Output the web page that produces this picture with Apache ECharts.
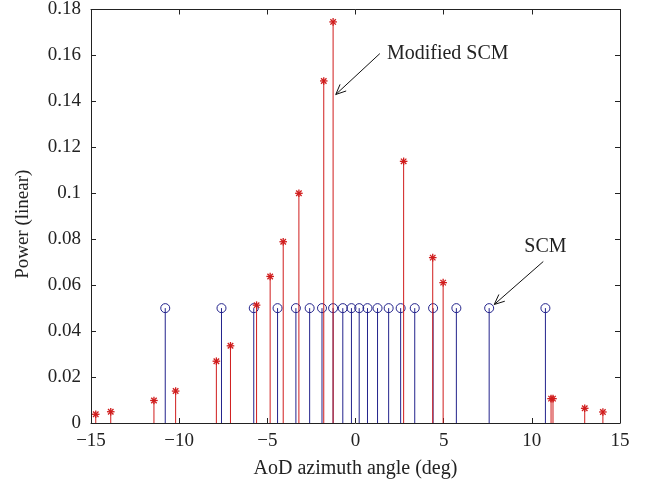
<!DOCTYPE html>
<html>
<head>
<meta charset="utf-8">
<script src="https://cdn.jsdelivr.net/npm/echarts@6/dist/echarts.min.js"></script>
<style>
html,body{margin:0;padding:0;background:#fff;}
#chart{width:651px;height:490px;}
</style>
</head>
<body>
<div id="chart"></div>
<script>
// SCM subpaths (angle in deg, power linear)
const scmAngles = [-10.79, -7.6, -5.77, -4.42, -3.38, -2.6, -1.9, -1.27, -0.72, -0.23,
                   0.21, 0.68, 1.25, 1.88, 2.56, 3.36, 4.4, 5.72, 7.58, 10.77];
const scmPower  = [0.05, 0.05, 0.05, 0.05, 0.05, 0.05, 0.05, 0.05, 0.05, 0.05,
                   0.05, 0.05, 0.05, 0.05, 0.05, 0.05, 0.05, 0.05, 0.05, 0.05];
// Modified SCM
const modAngles = [-14.73, -13.88, -11.43, -10.2, -7.89, -7.09, -5.61, -4.84, -4.1, -3.21,
                   -1.8, -1.27, 2.73, 4.38, 4.97, 11.09, 11.2, 13.0, 14.03];
const modPower  = [0.0038, 0.0049, 0.0098, 0.0139, 0.0269, 0.0336, 0.0513, 0.0638, 0.0789, 0.1000,
                   0.1489, 0.1746, 0.1139, 0.0720, 0.0611, 0.0106, 0.0106, 0.0064, 0.0048];
const xTicks = [-15, -10, -5, 0, 5, 10, 15];
const yTicks = [0, 0.02, 0.04, 0.06, 0.08, 0.1, 0.12, 0.14, 0.16, 0.18];

const FONT = '"Liberation Serif","DejaVu Serif",serif';
const BLUE = '#23238c';
const RED = '#d01c1c';

function pairs(a, b){ return a.map((v,i)=>[v,b[i]]); }

function stemRender(kind, color){
  return function(params, api){
    const x = api.value(0), y = api.value(1);
    const p = api.coord([x, y]);
    const b = api.coord([x, 0]);
    const children = [{
      type:'line', shape:{x1:b[0], y1:b[1], x2:p[0], y2:p[1]},
      style:{stroke:color, lineWidth:1}
    }];
    if (kind === 'circle') {
      children.push({type:'circle', shape:{cx:p[0], cy:p[1], r:4.5},
        style:{stroke:color, fill:null, lineWidth:1}});
    } else {
      const r = 3.8, d = r*0.72;
      const segs = [[-r,0,r,0],[0,-r,0,r],[-d,-d,d,d],[-d,d,d,-d]];
      segs.forEach(s=>children.push({type:'line',
        shape:{x1:p[0]+s[0], y1:p[1]+s[1], x2:p[0]+s[2], y2:p[1]+s[3]},
        style:{stroke:color, lineWidth:1.3}}));
    }
    return {type:'group', children};
  };
}

const chart = echarts.init(document.getElementById('chart'));
const axisCommon = {
  axisLine:{show:true, onZero:false, lineStyle:{color:'#222', width:1}},
  axisTick:{show:true, inside:true, length:5, lineStyle:{color:'#222'}},
  splitLine:{show:false}
};
chart.setOption({
  animation:false,
  backgroundColor:'#fff',
  grid:{left:91, right:31, top:7, bottom:67},
  xAxis:[
    Object.assign({type:'value', min:-15, max:15, interval:5, position:'bottom',
      name:'AoD azimuth angle (deg)', nameLocation:'middle', nameGap:36,
      nameTextStyle:{fontFamily:FONT, fontSize:20, color:'#222'},
      axisLabel:{fontFamily:FONT, fontSize:19, color:'#222', margin:9,
        formatter:v=>String(v).replace('-', '\u2212')}}, axisCommon),
    Object.assign({type:'value', min:-15, max:15, interval:5, position:'top',
      axisLabel:{show:false}}, axisCommon)
  ],
  yAxis:[
    Object.assign({type:'value', min:0, max:0.18, interval:0.02, position:'left',
      name:'Power (linear)', nameLocation:'middle', nameGap:58,
      nameTextStyle:{fontFamily:FONT, fontSize:19, color:'#222', padding:[0,16,0,0]},
      axisLabel:{fontFamily:FONT, fontSize:19, color:'#222', margin:10,
        formatter:v=>String(+v.toFixed(2))}}, axisCommon),
    Object.assign({type:'value', min:0, max:0.18, interval:0.02, position:'right',
      axisLabel:{show:false}}, axisCommon)
  ],
  series:[
    {type:'custom', name:'SCM', renderItem:stemRender('circle', BLUE),
     data:pairs(scmAngles, scmPower), encode:{x:0,y:1}, clip:false, z:2},
    {type:'custom', name:'Modified SCM', renderItem:stemRender('star', RED),
     data:pairs(modAngles, modPower), encode:{x:0,y:1}, clip:false, z:3}
  ]
});

// Annotations placed in data coordinates
function annot(text, textPt, tail, tip, align){
  const t = chart.convertToPixel({xAxisIndex:0, yAxisIndex:0}, textPt);
  const a = chart.convertToPixel({xAxisIndex:0, yAxisIndex:0}, tail);
  const b = chart.convertToPixel({xAxisIndex:0, yAxisIndex:0}, tip);
  const ang = Math.atan2(a[1]-b[1], a[0]-b[0]);
  const L = 11, spread = 0.42;
  const h1 = [b[0]+L*Math.cos(ang+spread), b[1]+L*Math.sin(ang+spread)];
  const h2 = [b[0]+L*Math.cos(ang-spread), b[1]+L*Math.sin(ang-spread)];
  return [
    {type:'text', x:t[0], y:t[1], style:{text, font:'20px '+FONT, fill:'#222',
      textAlign:align, textVerticalAlign:'middle'}, z:10},
    {type:'line', shape:{x1:a[0], y1:a[1], x2:b[0], y2:b[1]}, style:{stroke:'#111', lineWidth:1}, z:10},
    {type:'polyline', shape:{points:[h1, b, h2]}, style:{stroke:'#111', lineWidth:1, fill:null}, z:10}
  ];
}
chart.setOption({graphic:[
  ...annot('Modified SCM', [1.78, 0.1608], [1.38, 0.1608], [-1.12, 0.1430], 'left'),
  ...annot('SCM', [10.77, 0.0768], [10.65, 0.0703], [7.87, 0.0516], 'center')
]});
</script>
</body>
</html>
